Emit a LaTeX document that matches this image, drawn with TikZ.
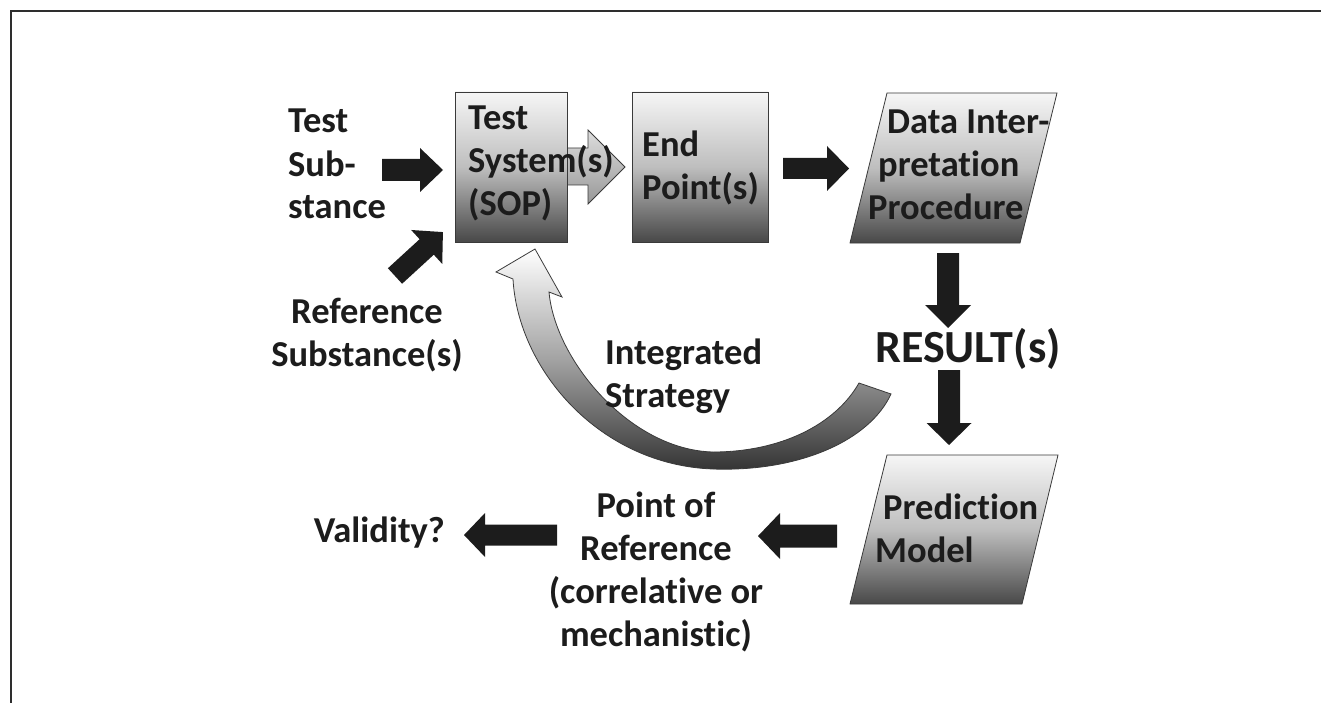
\documentclass[tikz,border=0pt]{standalone}
\usepackage{fontspec}
\setmainfont[Ligatures=NoCommon]{Carlito}
\definecolor{ink}{HTML}{1C1C1C}
\definecolor{edge}{HTML}{3A3A3A}
\definecolor{shadetop}{HTML}{F6F6F6}
\definecolor{shademid}{HTML}{BEBEBE}
\definecolor{shadebot}{HTML}{484848}
\definecolor{framecol}{HTML}{2E2E2E}

\tikzset{
  lbl/.style={inner sep=0pt, text=ink, font=\bfseries\fontsize{36.5}{43}\selectfont},
  stage/.style={draw=edge, line width=0.8pt, top color=shadetop, bottom color=shadebot, middle color=shademid},
  stagearrow/.style={draw=edge, line width=0.8pt, top color=shadetop!90!black, bottom color=shademid!80!black},
  loopband/.style={draw=edge, line width=0.8pt, top color=white, bottom color=shadebot!70!black, middle color=shademid!85!black},
  blk/.style={fill=ink},
  % block arrow along local +x: length, shaft half width, head half width, head length
  pics/blockarrow/.style n args={4}{code={
    \fill[blk] (0,-#2) -- ({#1-#4},-#2) -- ({#1-#4},-#3) -- (#1,0)
      -- ({#1-#4},#3) -- ({#1-#4},#2) -- (0,#2) -- cycle;
  }},
}

\begin{document}
\begin{tikzpicture}[x=1pt, y={(0pt,-1pt)}]
\useasboundingbox (0,0) rectangle (1321,703);

% frame
\draw[framecol, line width=2pt] (11,703) -- (11,11) -- (1321,11);

% arrow leaving the test system box
\draw[stagearrow] (560,148) -- (588,148) -- (588,130) -- (625,167)
  -- (588,204) -- (588,185) -- (560,185) -- cycle;

% stage boxes
\node[stage, minimum width=112pt, minimum height=150pt] (sysbox) at (511,167) {};
\node[stage, minimum width=136pt, minimum height=150pt] (endbox) at (700,167) {};
\draw[stage] (887,93) coordinate (d1) -- (1057,93) coordinate (d2)
  -- (1020,243) coordinate (d3) -- (850,243) coordinate (d4) -- cycle;
\draw[stage] (887,455) coordinate (p1) -- (1058,455) coordinate (p2)
  -- (1022,604) coordinate (p3) -- (850,604) coordinate (p4) -- cycle;

% feedback loop arrow
\draw[loopband] (513,279) .. controls (518,370) and (600,465) .. (713,469)
  .. controls (800,472) and (870,440) .. (891,394) -- (859,383)
  .. controls (835,425) and (780,452) .. (713,452)
  .. controls (630,450) and (555,360) .. (549,292)
  -- (562,297) -- (535,249) -- (496,272) -- cycle;

% black block arrows
\pic at (382,170) {blockarrow={61}{11}{22}{23}};
\pic[rotate=42.5] at (395,276) {blockarrow={65}{10.5}{23}{22}};
\pic at (783,168.5) {blockarrow={66}{10.5}{22.5}{22}};
\pic[rotate=-90] at (948,253) {blockarrow={75}{11}{23}{23}};
\pic[rotate=-90] at (949,370) {blockarrow={75}{11}{22.5}{22}};
\pic[rotate=180] at (837,536) {blockarrow={79}{11.5}{23}{22}};
\pic[rotate=180] at (557,535) {blockarrow={93}{10.5}{22}{21}};

% labels (multi-line nodes are placed by the baseline of their last line)
\node[lbl, anchor=base west, align=left] (testsub) at (288,219) {Test\\Sub-\\stance};
\node[lbl, anchor=base, align=center] (refsub) at (367,366) {Reference\\Substance(s)};
\node[lbl, anchor=base west, align=left] (systxt) at (468,216) {Test\\System(s)\\(SOP)};
\node[lbl, anchor=base west, align=left] (endtxt) at (642,200) {End\\Point(s)};
\node[lbl, anchor=base west, align=left] (datatxt) at (868,220)
  {\hspace*{19pt}Data Inter-\\\hspace*{10pt}pretation\\Procedure};
\node[lbl, anchor=base west, font=\bfseries\fontsize{46}{50}\selectfont] (result) at (875,362) {RESULT(s)};
\node[lbl, anchor=base west, align=left] (integ) at (605,407) {Integrated\\Strategy};
\node[lbl, anchor=base west, align=left] (predtxt) at (875,562) {\hspace*{8pt}Prediction\\Model};
\node[lbl, anchor=base, align=center] (pointref) at (656,646)
  {Point of\\Reference\\(correlative or\\mechanistic)};
\node[lbl, anchor=base east] (valid) at (445,542) {Validity?};
\end{tikzpicture}
\end{document}
